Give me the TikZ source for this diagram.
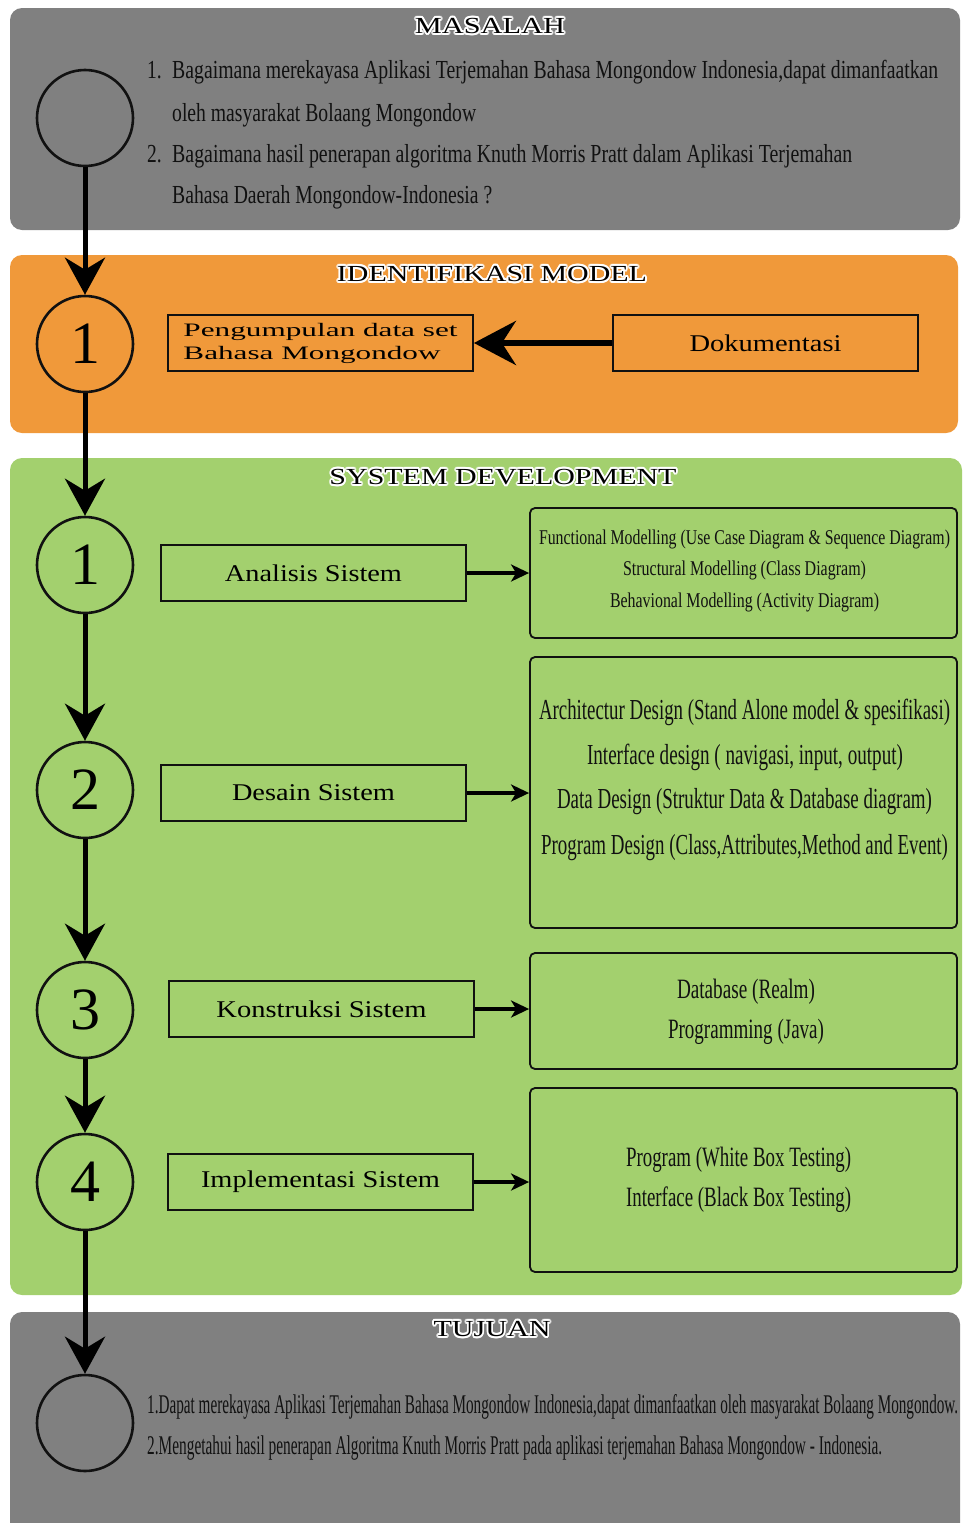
\documentclass[tikz,border=0pt]{standalone}
\usepackage{fontspec}
\setmainfont{Liberation Serif}
\usepackage{graphicx}
\usetikzlibrary{arrows.meta}
\definecolor{panelgray}{HTML}{808080}
\definecolor{panelorange}{HTML}{F0993A}
\definecolor{panelgreen}{HTML}{A3D06E}
\definecolor{ink}{HTML}{111111}
\newcommand\fitw[2]{\resizebox{#1pt}{\height}{#2}}
\newcommand\fsz[1]{\fontsize{#1}{#1}\selectfont}
\newcommand\halotitle[4]{%
  \foreach \a in {0,30,...,330}{\node[titletext,text=white] at ([shift={(\a:1.8pt)}]#2,#3) {#4};}%
  \foreach \a in {0,45,...,315}{\node[titletext,text=white] at ([shift={(\a:1pt)}]#2,#3) {#4};}%
  \node[titletext] (#1) at (#2,#3) {#4};}
\begin{document}
\begin{tikzpicture}[x=1pt,y=-1pt,
  panel/.style={rounded corners=12pt,draw=none},
  titletext/.style={inner sep=0pt,text=black,font=\fsz{23}},
  stepcircle/.style={circle,draw=ink,line width=2.6pt,minimum size=96pt,inner sep=0pt,font=\fsz{60}},
  labelbox/.style={draw=ink,line width=1.8pt,minimum width=305pt,minimum height=56pt,inner sep=0pt,font=\fsz{24}},
  infobox/.style={draw=ink,line width=1.8pt,rounded corners=5pt,minimum width=427pt,inner sep=0pt},
  line/.style={inner sep=0pt,anchor=mid west,text=ink,yshift=-6pt},
  cline/.style={inner sep=0pt,anchor=mid,text=ink,yshift=-6pt},
  vflow/.style={-{Stealth[length=37pt,width=40pt,inset=12pt]},line width=5pt,draw=black},
  hflow/.style={-{Stealth[length=18pt,width=17pt,inset=5pt]},line width=3.5pt,draw=black},
  bigflow/.style={-{Stealth[length=42pt,width=44pt,inset=14pt]},line width=6pt,draw=black}
]
\useasboundingbox (0,0) rectangle (963,1523);
\clip (0,0) rectangle (963,1523);
\fill[white] (0,0) rectangle (963,1523);

% panels
\fill[panel,panelgray] (10,8) rectangle (960,230);
\fill[panel,panelorange] (10,255) rectangle (958,433);
\fill[panel,panelgreen] (10,458) rectangle (962,1295);
\fill[panel,panelgray] (10,1312) rectangle (960,1545);

% titles
\halotitle{tmas}{490}{26}{\fitw{150}{MASALAH}}
\halotitle{tidm}{492}{274}{\fitw{310}{IDENTIFIKASI MODEL}}
\halotitle{tsys}{503}{477}{\fitw{347}{SYSTEM DEVELOPMENT}}
\halotitle{ttuj}{492}{1329}{\fitw{117}{TUJUAN}}

% MASALAH
\node[stepcircle] (c0) at (85,118) {};
\node[line,font=\fsz{26}] (m1n) at (147,70) {\scalebox{0.75}[1]{1.}};
\node[line,font=\fsz{26}] (m1a) at (172,70) {\fitw{766}{Bagaimana merekayasa Aplikasi Terjemahan Bahasa Mongondow Indonesia,dapat dimanfaatkan}};
\node[line,font=\fsz{26}] (m1b) at (172,113) {\fitw{304}{oleh masyarakat Bolaang Mongondow}};
\node[line,font=\fsz{26}] (m2n) at (147,154) {\scalebox{0.75}[1]{2.}};
\node[line,font=\fsz{26}] (m2a) at (172,154) {\fitw{680}{Bagaimana hasil penerapan algoritma Knuth Morris Pratt dalam Aplikasi Terjemahan}};
\node[line,font=\fsz{26}] (m2b) at (172,195) {\fitw{320}{Bahasa Daerah Mongondow-Indonesia ?}};

% IDENTIFIKASI MODEL
\node[stepcircle] (c1) at (85,344) {1};
\node[labelbox,font=\fsz{19},align=left] (peng) at (320.5,343) {\fitw{274}{Pengumpulan data set}\\[4pt]\fitw{257}{Bahasa Mongondow}\hspace*{17pt}};
\node[labelbox] (doc) at (765.5,343) {\fitw{152}{Dokumentasi}};
\draw[bigflow] (doc.west) -- (peng.east);

% SYSTEM DEVELOPMENT
\node[stepcircle] (s1) at (85,565) {1};
\node[stepcircle] (s2) at (85,790) {2};
\node[stepcircle] (s3) at (85,1010) {3};
\node[stepcircle] (s4) at (85,1182) {4};

\node[labelbox] (ana) at (313.5,573) {\fitw{177}{Analisis Sistem}};
\node[labelbox] (des) at (313.5,793) {\fitw{163}{Desain Sistem}};
\node[labelbox] (kon) at (321.5,1009) {\fitw{210}{Konstruksi Sistem}};
\node[labelbox] (imp) at (320.5,1182) {\fitw{239}{Implementasi Sistem}};

\node[infobox,minimum height=130pt] (i1) at (743.5,573) {};
\node[infobox,minimum height=271pt] (i2) at (743.5,792.5) {};
\node[infobox,minimum height=116pt] (i3) at (743.5,1011) {};
\node[infobox,minimum height=184pt] (i4) at (743.5,1180) {};

\node[cline,font=\fsz{21}] (i1a) at (744.5,536) {\fitw{411}{Functional Modelling (Use Case Diagram \& Sequence Diagram)}};
\node[cline,font=\fsz{21}] (i1b) at (744.5,567) {\fitw{243}{Structural Modelling (Class Diagram)}};
\node[cline,font=\fsz{21}] (i1c) at (744.5,599) {\fitw{269}{Behavional Modelling (Activity Diagram)}};

\node[cline,font=\fsz{29}] (i2a) at (744.5,711) {\fitw{411}{Architectur Design (Stand Alone model \& spesifikasi)}};
\node[cline,font=\fsz{29}] (i2b) at (745,756) {\fitw{316}{Interface design ( navigasi, input, output)}};
\node[cline,font=\fsz{29}] (i2c) at (744.5,800) {\fitw{375}{Data Design (Struktur Data \& Database diagram)}};
\node[cline,font=\fsz{29}] (i2d) at (744.5,846) {\fitw{407}{Program Design (Class,Attributes,Method and Event)}};

\node[cline,font=\fsz{28}] (i3a) at (746,990) {\fitw{138}{Database (Realm)}};
\node[cline,font=\fsz{28}] (i3b) at (746,1030) {\fitw{156}{Programming (Java)}};

\node[cline,font=\fsz{28}] (i4a) at (738.5,1158) {\fitw{225}{Program (White Box Testing)}};
\node[cline,font=\fsz{28}] (i4b) at (738.5,1198) {\fitw{225}{Interface (Black Box Testing)}};

\draw[hflow] (ana.east) -- (ana.east -| i1.west);
\draw[hflow] (des.east) -- (des.east -| i2.west);
\draw[hflow] (kon.east) -- (kon.east -| i3.west);
\draw[hflow] (imp.east) -- (imp.east -| i4.west);

% TUJUAN
\node[stepcircle] (c5) at (85,1423) {};
\node[line,font=\fsz{27}] (t1) at (147,1405) {\fitw{811}{1.Dapat merekayasa Aplikasi Terjemahan Bahasa Mongondow Indonesia,dapat dimanfaatkan oleh masyarakat Bolaang Mongondow.}};
\node[line,font=\fsz{27}] (t2) at (147,1446) {\fitw{735}{2.Mengetahui hasil penerapan Algoritma Knuth Morris Pratt pada aplikasi terjemahan Bahasa Mongondow - Indonesia.}};

% vertical flow
\draw[vflow] (c0.south) -- (c1.north);
\draw[vflow] (c1.south) -- (s1.north);
\draw[vflow] (s1.south) -- (s2.north);
\draw[vflow] (s2.south) -- (s3.north);
\draw[vflow] (s3.south) -- (s4.north);
\draw[vflow] (s4.south) -- (c5.north);
\end{tikzpicture}
\end{document}
